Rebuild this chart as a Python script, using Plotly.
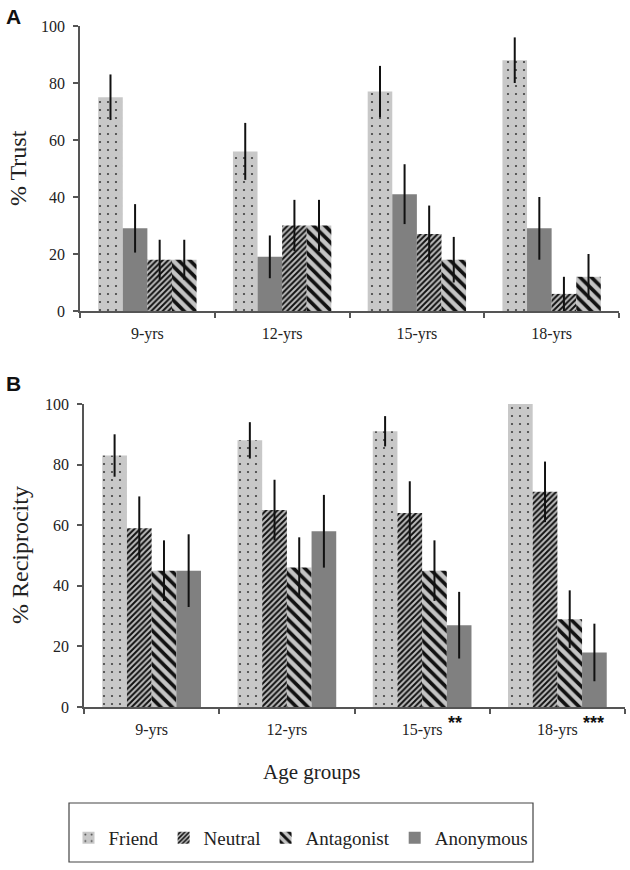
import plotly.graph_objects as go

ages = ["9-yrs", "12-yrs", "15-yrs", "18-yrs"]

# Panel A: % Trust
trust_friend = [75, 56, 77, 88]
trust_friend_err = [8, 10, 9, 8]
trust_anon = [29, 19, 41, 29]
trust_anon_err = [8.5, 7.5, 10.5, 11]
trust_neutral = [18, 30, 27, 6]
trust_neutral_err = [7, 9, 10, 6]
trust_antag = [18, 30, 18, 12]
trust_antag_err = [7, 9, 8, 8]

# Panel B: % Reciprocity
rec_friend = [83, 88, 91, 100]
rec_friend_err = [7, 6, 5, 0]
rec_neutral = [59, 65, 64, 71]
rec_neutral_err = [10.5, 10, 10.5, 10]
rec_antag = [45, 46, 45, 29]
rec_antag_err = [10, 10, 10, 9.5]
rec_anon = [45, 58, 27, 18]
rec_anon_err = [12, 12, 11, 9.5]

significance = {"15-yrs": "**", "18-yrs": "***"}

SERIF = "Liberation Serif"
SANS = "Liberation Sans"

styles = {
    "Friend": dict(color="#c8c8c8", pattern=dict(shape=".", bgcolor="#c8c8c8", fgcolor="#404040", size=8, solidity=0.06, fillmode="replace")),
    "Neutral": dict(color="#bdbdbd", pattern=dict(shape="/", bgcolor="#bdbdbd", fgcolor="#111111", size=4, solidity=0.5, fillmode="replace")),
    "Antagonist": dict(color="#c4c4c4", pattern=dict(shape="\\", bgcolor="#c4c4c4", fgcolor="#111111", size=8, solidity=0.45, fillmode="replace")),
    "Anonymous": dict(color="#808080"),
}

fig = go.Figure()


def add_bar(name, y, err, xa, ya, showlegend, rank):
    fig.add_trace(go.Bar(
        x=ages, y=y, name=name, xaxis=xa, yaxis=ya,
        marker=dict(line=dict(width=0), **styles[name]),
        error_y=dict(type="data", array=err, visible=True, color="#111111", thickness=2, width=0),
        showlegend=showlegend, legendgroup=name, legendrank=rank,
    ))


# Panel B (legend shown here)
add_bar("Friend", rec_friend, rec_friend_err, "x2", "y2", True, 1)
add_bar("Neutral", rec_neutral, rec_neutral_err, "x2", "y2", True, 2)
add_bar("Antagonist", rec_antag, rec_antag_err, "x2", "y2", True, 3)
add_bar("Anonymous", rec_anon, rec_anon_err, "x2", "y2", True, 4)

# Panel A
add_bar("Friend", trust_friend, trust_friend_err, "x", "y", False, 1)
add_bar("Anonymous", trust_anon, trust_anon_err, "x", "y", False, 4)
add_bar("Neutral", trust_neutral, trust_neutral_err, "x", "y", False, 2)
add_bar("Antagonist", trust_antag, trust_antag_err, "x", "y", False, 3)

W, H = 630, 870
OFF = 0  # body margin removed via post_script


def px_x(p):
    return (p - OFF) / W


def px_y(p):
    return 1 - (p - OFF) / H


axis_common = dict(showgrid=False, zeroline=False, showline=True, linecolor="#555555", linewidth=1.5,
                   ticks="outside", tickcolor="#555555", ticklen=5, tickwidth=1.5, automargin=False,
                   tickfont=dict(family=SERIF, size=16, color="#222222"))
xcommon = dict(type="category", tickson="boundaries", ticklabelstandoff=7, **axis_common)
ycommon = dict(range=[0, 100], dtick=20, ticklabelstandoff=5, **axis_common)

fig.update_layout(
    template="none",
    width=W, height=H,
    margin=dict(l=0, r=0, t=0, b=0, pad=0),
    paper_bgcolor="white", plot_bgcolor="white",
    barmode="group", bargap=0.27, bargroupgap=0,
    xaxis=dict(domain=[px_x(80), px_x(619)], anchor="y", **xcommon),
    yaxis=dict(domain=[px_y(311), px_y(26)], anchor="x", **ycommon),
    xaxis2=dict(domain=[px_x(84), px_x(625)], anchor="y2", **xcommon),
    yaxis2=dict(domain=[px_y(707), px_y(404)], anchor="x2", **ycommon),
    legend=dict(orientation="h", x=px_x(301), xanchor="center", y=px_y(838), yanchor="middle",
                font=dict(family=SERIF, size=19, color="#222222"), bgcolor="rgba(0,0,0,0)",
                borderwidth=0, itemwidth=30, traceorder="normal"),
    shapes=[dict(type="rect", xref="paper", yref="paper",
                 x0=px_x(69), x1=px_x(533), y0=px_y(862), y1=px_y(803),
                 line=dict(color="#444444", width=1.2))],
)

ann = []
ann.append(dict(text="<b>A</b>", x=px_x(13), y=px_y(17), xref="paper", yref="paper", showarrow=False,
                xanchor="center", yanchor="middle",
                font=dict(family=SANS, size=21, color="#111111")))
ann.append(dict(text="<b>B</b>", x=px_x(13), y=px_y(383), xref="paper", yref="paper", showarrow=False,
                xanchor="center", yanchor="middle",
                font=dict(family=SANS, size=21, color="#111111")))
ann.append(dict(text="% Trust", x=px_x(18), y=px_y(168), xref="paper", yref="paper", showarrow=False,
                xanchor="center", yanchor="middle",
                textangle=-90, font=dict(family=SERIF, size=24, color="#222222")))
ann.append(dict(text="% Reciprocity", x=px_x(20), y=px_y(555), xref="paper", yref="paper", showarrow=False,
                xanchor="center", yanchor="middle",
                textangle=-90, font=dict(family=SERIF, size=24, color="#222222")))
ann.append(dict(text="Age groups", x=px_x(311), y=px_y(772), xref="paper", yref="paper", showarrow=False,
                xanchor="center", yanchor="middle",
                font=dict(family=SERIF, size=21, color="#222222")))
for cat, star in significance.items():
    ann.append(dict(text="<b>" + star + "</b>", x=cat, xref="x2", y=px_y(723), yref="paper",
                    xanchor="left", yanchor="middle", xshift=24, showarrow=False,
                    font=dict(family=SANS, size=18, color="#111111")))
fig.update_layout(annotations=ann)

fig.write_html("out.html", config={"displayModeBar": False},
               post_script="document.body.style.margin='0';document.body.style.padding='0';")
